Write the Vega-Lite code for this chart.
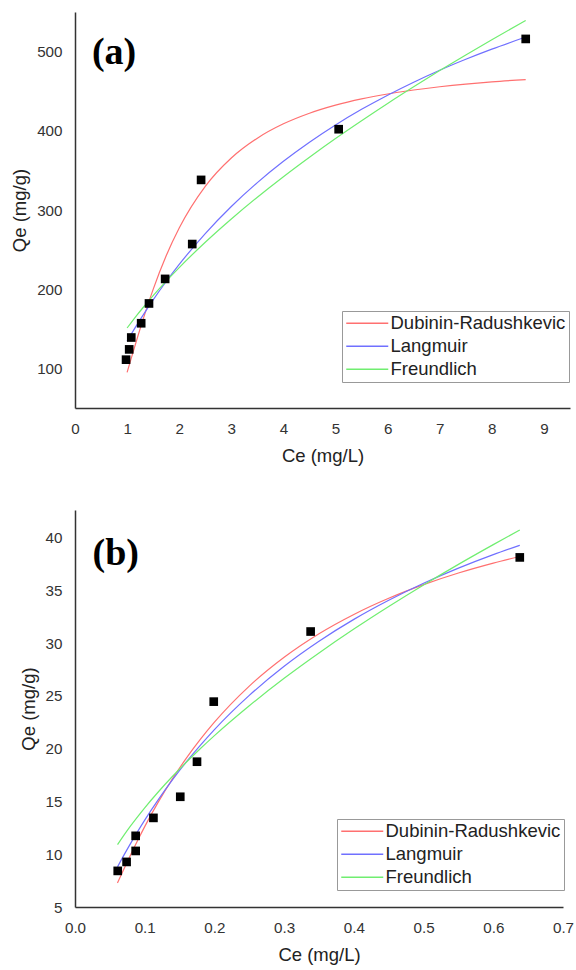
{
  "$schema": "https://vega.github.io/schema/vega-lite/v6.json",
  "background": "white",
  "padding": {"left": 10, "top": 12, "right": 6, "bottom": 4},
  "config": {
    "view": {"stroke": null},
    "font": "Liberation Sans",
    "axis": {
      "domainColor": "#333333", "domainWidth": 1.5, "ticks": false, "tickSize": 0, "grid": false, "labelFlush": false,
      "labelFont": "Liberation Sans", "labelFontSize": 15.2, "labelColor": "#333333", "labelPadding": 13,
      "titleFont": "Liberation Sans", "titleFontSize": 18.5, "titleFontWeight": "normal", "titleColor": "#222222"
    },
    "axisX": {"titlePadding": 10},
    "axisY": {"titlePadding": 7},
    "legend": {
      "title": null, "labelFont": "Liberation Sans", "labelFontSize": 18.5, "labelColor": "#222222",
      "symbolType": "M-3,0L3,0", "symbolSize": 196, "symbolStrokeWidth": 1.5, "symbolOffset": 13, "labelOffset": 14,
      "padding": 3, "rowPadding": 4, "strokeColor": "#999999", "fillColor": "white", "labelLimit": 400
    },
    "concat": {"spacing": 45}
  },
  "datasets": {
    "curvesA": [
      {"model": "Dubinin-Radushkevic", "Ce": 1.0, "Qe": 95.0},
      {"model": "Dubinin-Radushkevic", "Ce": 1.1, "Qe": 117.3},
      {"model": "Dubinin-Radushkevic", "Ce": 1.2, "Qe": 139.3},
      {"model": "Dubinin-Radushkevic", "Ce": 1.35, "Qe": 170.8},
      {"model": "Dubinin-Radushkevic", "Ce": 1.5, "Qe": 199.8},
      {"model": "Dubinin-Radushkevic", "Ce": 1.75, "Qe": 242.2},
      {"model": "Dubinin-Radushkevic", "Ce": 2.0, "Qe": 277.2},
      {"model": "Dubinin-Radushkevic", "Ce": 2.5, "Qe": 329.8},
      {"model": "Dubinin-Radushkevic", "Ce": 3.0, "Qe": 365.6},
      {"model": "Dubinin-Radushkevic", "Ce": 3.5, "Qe": 390.7},
      {"model": "Dubinin-Radushkevic", "Ce": 4.0, "Qe": 408.8},
      {"model": "Dubinin-Radushkevic", "Ce": 4.5, "Qe": 422.2},
      {"model": "Dubinin-Radushkevic", "Ce": 5.0, "Qe": 432.4},
      {"model": "Dubinin-Radushkevic", "Ce": 5.5, "Qe": 440.3},
      {"model": "Dubinin-Radushkevic", "Ce": 6.0, "Qe": 446.5},
      {"model": "Dubinin-Radushkevic", "Ce": 6.5, "Qe": 451.5},
      {"model": "Dubinin-Radushkevic", "Ce": 7.0, "Qe": 455.6},
      {"model": "Dubinin-Radushkevic", "Ce": 7.5, "Qe": 459.0},
      {"model": "Dubinin-Radushkevic", "Ce": 8.0, "Qe": 461.8},
      {"model": "Dubinin-Radushkevic", "Ce": 8.65, "Qe": 464.7},
      {"model": "Langmuir", "Ce": 1.0, "Qe": 134.4},
      {"model": "Langmuir", "Ce": 1.1, "Qe": 145.5},
      {"model": "Langmuir", "Ce": 1.2, "Qe": 156.2},
      {"model": "Langmuir", "Ce": 1.35, "Qe": 171.7},
      {"model": "Langmuir", "Ce": 1.5, "Qe": 186.5},
      {"model": "Langmuir", "Ce": 1.75, "Qe": 209.7},
      {"model": "Langmuir", "Ce": 2.0, "Qe": 231.3},
      {"model": "Langmuir", "Ce": 2.5, "Qe": 270.2},
      {"model": "Langmuir", "Ce": 3.0, "Qe": 304.4},
      {"model": "Langmuir", "Ce": 3.5, "Qe": 334.6},
      {"model": "Langmuir", "Ce": 4.0, "Qe": 361.5},
      {"model": "Langmuir", "Ce": 4.5, "Qe": 385.6},
      {"model": "Langmuir", "Ce": 5.0, "Qe": 407.4},
      {"model": "Langmuir", "Ce": 5.5, "Qe": 427.1},
      {"model": "Langmuir", "Ce": 6.0, "Qe": 445.0},
      {"model": "Langmuir", "Ce": 6.5, "Qe": 461.4},
      {"model": "Langmuir", "Ce": 7.0, "Qe": 476.5},
      {"model": "Langmuir", "Ce": 7.5, "Qe": 490.3},
      {"model": "Langmuir", "Ce": 8.0, "Qe": 503.1},
      {"model": "Langmuir", "Ce": 8.65, "Qe": 518.4},
      {"model": "Freundlich", "Ce": 1.0, "Qe": 151.0},
      {"model": "Freundlich", "Ce": 1.1, "Qe": 159.7},
      {"model": "Freundlich", "Ce": 1.2, "Qe": 168.2},
      {"model": "Freundlich", "Ce": 1.35, "Qe": 180.2},
      {"model": "Freundlich", "Ce": 1.5, "Qe": 191.8},
      {"model": "Freundlich", "Ce": 1.75, "Qe": 210.1},
      {"model": "Freundlich", "Ce": 2.0, "Qe": 227.3},
      {"model": "Freundlich", "Ce": 2.5, "Qe": 259.3},
      {"model": "Freundlich", "Ce": 3.0, "Qe": 288.7},
      {"model": "Freundlich", "Ce": 3.5, "Qe": 316.2},
      {"model": "Freundlich", "Ce": 4.0, "Qe": 342.1},
      {"model": "Freundlich", "Ce": 4.5, "Qe": 366.7},
      {"model": "Freundlich", "Ce": 5.0, "Qe": 390.3},
      {"model": "Freundlich", "Ce": 5.5, "Qe": 412.8},
      {"model": "Freundlich", "Ce": 6.0, "Qe": 434.6},
      {"model": "Freundlich", "Ce": 6.5, "Qe": 455.6},
      {"model": "Freundlich", "Ce": 7.0, "Qe": 476.0},
      {"model": "Freundlich", "Ce": 7.5, "Qe": 495.7},
      {"model": "Freundlich", "Ce": 8.0, "Qe": 515.0},
      {"model": "Freundlich", "Ce": 8.65, "Qe": 539.3}
    ],
    "pointsA": [
      {"Ce": 0.98, "Qe": 111},
      {"Ce": 1.04, "Qe": 124},
      {"Ce": 1.08, "Qe": 139},
      {"Ce": 1.27, "Qe": 157},
      {"Ce": 1.42, "Qe": 182},
      {"Ce": 1.73, "Qe": 213},
      {"Ce": 2.25, "Qe": 257},
      {"Ce": 2.42, "Qe": 338},
      {"Ce": 5.06, "Qe": 402},
      {"Ce": 8.65, "Qe": 516}
    ],
    "curvesB": [
      {"model": "Dubinin-Radushkevic", "Ce": 0.061, "Qe": 7.28},
      {"model": "Dubinin-Radushkevic", "Ce": 0.07, "Qe": 8.58},
      {"model": "Dubinin-Radushkevic", "Ce": 0.08, "Qe": 9.98},
      {"model": "Dubinin-Radushkevic", "Ce": 0.09, "Qe": 11.32},
      {"model": "Dubinin-Radushkevic", "Ce": 0.1, "Qe": 12.61},
      {"model": "Dubinin-Radushkevic", "Ce": 0.12, "Qe": 15.0},
      {"model": "Dubinin-Radushkevic", "Ce": 0.14, "Qe": 17.16},
      {"model": "Dubinin-Radushkevic", "Ce": 0.16, "Qe": 19.12},
      {"model": "Dubinin-Radushkevic", "Ce": 0.18, "Qe": 20.89},
      {"model": "Dubinin-Radushkevic", "Ce": 0.2, "Qe": 22.5},
      {"model": "Dubinin-Radushkevic", "Ce": 0.25, "Qe": 25.92},
      {"model": "Dubinin-Radushkevic", "Ce": 0.3, "Qe": 28.65},
      {"model": "Dubinin-Radushkevic", "Ce": 0.35, "Qe": 30.88},
      {"model": "Dubinin-Radushkevic", "Ce": 0.4, "Qe": 32.71},
      {"model": "Dubinin-Radushkevic", "Ce": 0.45, "Qe": 34.24},
      {"model": "Dubinin-Radushkevic", "Ce": 0.5, "Qe": 35.53},
      {"model": "Dubinin-Radushkevic", "Ce": 0.55, "Qe": 36.63},
      {"model": "Dubinin-Radushkevic", "Ce": 0.6, "Qe": 37.57},
      {"model": "Dubinin-Radushkevic", "Ce": 0.638, "Qe": 38.2},
      {"model": "Langmuir", "Ce": 0.061, "Qe": 8.8},
      {"model": "Langmuir", "Ce": 0.07, "Qe": 9.89},
      {"model": "Langmuir", "Ce": 0.08, "Qe": 11.05},
      {"model": "Langmuir", "Ce": 0.09, "Qe": 12.16},
      {"model": "Langmuir", "Ce": 0.1, "Qe": 13.23},
      {"model": "Langmuir", "Ce": 0.12, "Qe": 15.22},
      {"model": "Langmuir", "Ce": 0.14, "Qe": 17.06},
      {"model": "Langmuir", "Ce": 0.16, "Qe": 18.76},
      {"model": "Langmuir", "Ce": 0.18, "Qe": 20.33},
      {"model": "Langmuir", "Ce": 0.2, "Qe": 21.8},
      {"model": "Langmuir", "Ce": 0.25, "Qe": 25.04},
      {"model": "Langmuir", "Ce": 0.3, "Qe": 27.8},
      {"model": "Langmuir", "Ce": 0.35, "Qe": 30.17},
      {"model": "Langmuir", "Ce": 0.4, "Qe": 32.24},
      {"model": "Langmuir", "Ce": 0.45, "Qe": 34.05},
      {"model": "Langmuir", "Ce": 0.5, "Qe": 35.66},
      {"model": "Langmuir", "Ce": 0.55, "Qe": 37.09},
      {"model": "Langmuir", "Ce": 0.6, "Qe": 38.37},
      {"model": "Langmuir", "Ce": 0.638, "Qe": 39.26},
      {"model": "Freundlich", "Ce": 0.061, "Qe": 10.9},
      {"model": "Freundlich", "Ce": 0.07, "Qe": 11.78},
      {"model": "Freundlich", "Ce": 0.08, "Qe": 12.7},
      {"model": "Freundlich", "Ce": 0.09, "Qe": 13.56},
      {"model": "Freundlich", "Ce": 0.1, "Qe": 14.39},
      {"model": "Freundlich", "Ce": 0.12, "Qe": 15.94},
      {"model": "Freundlich", "Ce": 0.14, "Qe": 17.38},
      {"model": "Freundlich", "Ce": 0.16, "Qe": 18.73},
      {"model": "Freundlich", "Ce": 0.18, "Qe": 20.01},
      {"model": "Freundlich", "Ce": 0.2, "Qe": 21.23},
      {"model": "Freundlich", "Ce": 0.25, "Qe": 24.06},
      {"model": "Freundlich", "Ce": 0.3, "Qe": 26.66},
      {"model": "Freundlich", "Ce": 0.35, "Qe": 29.06},
      {"model": "Freundlich", "Ce": 0.4, "Qe": 31.32},
      {"model": "Freundlich", "Ce": 0.45, "Qe": 33.46},
      {"model": "Freundlich", "Ce": 0.5, "Qe": 35.5},
      {"model": "Freundlich", "Ce": 0.55, "Qe": 37.45},
      {"model": "Freundlich", "Ce": 0.6, "Qe": 39.32},
      {"model": "Freundlich", "Ce": 0.638, "Qe": 40.7}
    ],
    "pointsB": [
      {"Ce": 0.0613, "Qe": 8.42},
      {"Ce": 0.074, "Qe": 9.27},
      {"Ce": 0.087, "Qe": 10.31},
      {"Ce": 0.087, "Qe": 11.74},
      {"Ce": 0.1125, "Qe": 13.44},
      {"Ce": 0.151, "Qe": 15.44},
      {"Ce": 0.175, "Qe": 18.76},
      {"Ce": 0.199, "Qe": 24.45},
      {"Ce": 0.338, "Qe": 31.09},
      {"Ce": 0.638, "Qe": 38.11}
    ]
  },
  "resolve": {"scale": {"color": "independent", "x": "independent", "y": "independent"}, "legend": {"color": "independent"}},
  "vconcat": [
    {
      "width": 495, "height": 396,
      "layer": [
        {
          "data": {"name": "curvesA"},
          "mark": {"type": "line", "strokeWidth": 1.2, "interpolate": "monotone"},
          "encoding": {
            "x": {"field": "Ce", "type": "quantitative", "scale": {"domain": [0, 9.5], "nice": false, "zero": false}, "axis": {"values": [0, 1, 2, 3, 4, 5, 6, 7, 8, 9], "format": "d", "title": "Ce (mg/L)"}},
            "y": {"field": "Qe", "type": "quantitative", "scale": {"domain": [50, 550], "nice": false, "zero": false}, "axis": {"values": [100, 200, 300, 400, 500], "format": "d", "title": "Qe (mg/g)"}},
            "color": {"field": "model", "type": "nominal", "scale": {"domain": ["Dubinin-Radushkevic", "Langmuir", "Freundlich"], "range": ["#ff7070", "#7070ff", "#70ee70"]}, "legend": {"orient": "none", "legendX": 267, "legendY": 299}}
          }
        },
        {
          "data": {"name": "pointsA"},
          "mark": {"type": "square", "size": 75, "color": "black", "opacity": 1},
          "encoding": {
            "x": {"field": "Ce", "type": "quantitative"},
            "y": {"field": "Qe", "type": "quantitative"}
          }
        },
        {
          "data": {"values": [{"label": "(a)", "Ce": 0.75, "Qe": 498}]},
          "mark": {"type": "text", "font": "Liberation Serif", "fontWeight": "bold", "fontSize": 38, "align": "center", "baseline": "middle", "color": "black"},
          "encoding": {
            "x": {"field": "Ce", "type": "quantitative"},
            "y": {"field": "Qe", "type": "quantitative"},
            "text": {"field": "label"}
          }
        }
      ]
    },
    {
      "width": 488, "height": 397,
      "layer": [
        {
          "data": {"name": "curvesB"},
          "mark": {"type": "line", "strokeWidth": 1.2, "interpolate": "monotone"},
          "encoding": {
            "x": {"field": "Ce", "type": "quantitative", "scale": {"domain": [0, 0.7], "nice": false, "zero": false}, "axis": {"values": [0, 0.1, 0.2, 0.3, 0.4, 0.5, 0.6, 0.7], "format": ".1f", "title": "Ce (mg/L)"}},
            "y": {"field": "Qe", "type": "quantitative", "scale": {"domain": [5, 42.6], "nice": false, "zero": false}, "axis": {"values": [5, 10, 15, 20, 25, 30, 35, 40], "format": "d", "title": "Qe (mg/g)"}},
            "color": {"field": "model", "type": "nominal", "scale": {"domain": ["Dubinin-Radushkevic", "Langmuir", "Freundlich"], "range": ["#ff7070", "#7070ff", "#70ee70"]}, "legend": {"orient": "none", "legendX": 262, "legendY": 309}}
          }
        },
        {
          "data": {"name": "pointsB"},
          "mark": {"type": "square", "size": 75, "color": "black", "opacity": 1},
          "encoding": {
            "x": {"field": "Ce", "type": "quantitative"},
            "y": {"field": "Qe", "type": "quantitative"}
          }
        },
        {
          "data": {"values": [{"label": "(b)", "Ce": 0.0584, "Qe": 38.4}]},
          "mark": {"type": "text", "font": "Liberation Serif", "fontWeight": "bold", "fontSize": 38, "align": "center", "baseline": "middle", "color": "black"},
          "encoding": {
            "x": {"field": "Ce", "type": "quantitative"},
            "y": {"field": "Qe", "type": "quantitative"},
            "text": {"field": "label"}
          }
        }
      ]
    }
  ]
}
